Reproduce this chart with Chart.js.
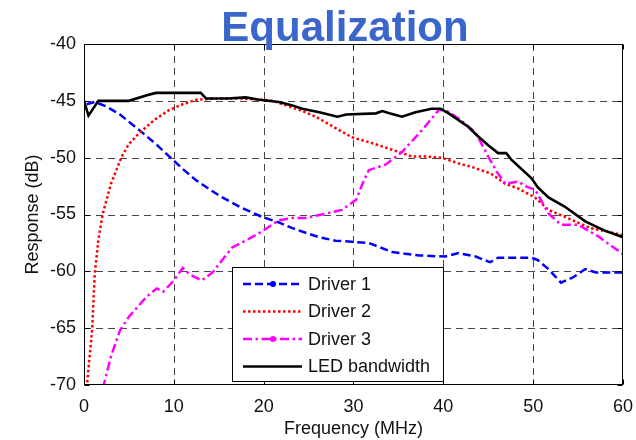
<!DOCTYPE html>
<html>
<head>
<meta charset="utf-8">
<script src="https://cdn.jsdelivr.net/npm/chart.js"></script>
<style>
  body { margin: 0; background: #fff; }
  #wrap { width: 636px; height: 440px; }
</style>
</head>
<body>
<div id="wrap"><canvas id="eqChart" width="636" height="440"></canvas></div>
<script>
// Values (MHz / dB)
const driver1Freq = [0.3, 1.2, 2.5, 4.0, 6.2, 8, 9.5, 11, 12.5, 14, 15.4, 17.5, 19.8, 21.7, 23.2, 25, 26.2, 28, 29.8, 31.7, 33, 34.3, 37.3, 40.2, 41.7, 43.6, 45.2, 46.1, 48, 49.8, 50.5, 51.7, 53.1, 54.5, 55.8, 57, 60];
const driver1Resp = [-45.3, -45.1, -45.5, -46.2, -47.6, -48.8, -49.9, -51.0, -52.0, -52.8, -53.5, -54.4, -55.2, -55.7, -56.2, -56.7, -57.0, -57.3, -57.4, -57.5, -57.9, -58.3, -58.6, -58.7, -58.4, -58.7, -59.2, -58.8, -58.8, -58.8, -59.0, -59.8, -61.0, -60.5, -59.8, -60.1, -60.1];

const driver2Freq = [0.3, 0.9, 1.2, 1.6, 2.1, 3, 4.2, 5, 6.2, 7.8, 9.5, 11, 12.5, 15, 17.3, 19.8, 21, 22.5, 24, 25.8, 27.8, 29.8, 32, 34.3, 36.5, 38, 39.8, 41.7, 43.1, 45.3, 46.9, 48.3, 50.2, 51.7, 53.5, 56.4, 60];
const driver2Resp = [-70.2, -65.2, -60.2, -57.2, -54.9, -52.3, -49.9, -48.8, -47.8, -46.7, -45.8, -45.3, -44.9, -44.8, -44.8, -44.9, -45.0, -45.4, -45.8, -46.4, -47.3, -48.2, -48.7, -49.3, -49.9, -49.9, -50.0, -50.5, -50.8, -51.4, -52.3, -52.7, -53.5, -54.6, -55.2, -56.2, -56.8];

const driver3Freq = [2.1, 3, 4.0, 5, 6.0, 7, 8.1, 8.8, 9.9, 11.0, 11.8, 13.1, 14.3, 15.5, 16.5, 18, 19.8, 21.7, 23.2, 24.7, 26.5, 28.7, 30.3, 31.0, 31.7, 33.6, 35.4, 37.6, 39.5, 40.2, 41.8, 43.6, 45.0, 46.0, 46.9, 48.3, 49.4, 50.2, 51.7, 53.1, 55.0, 57.2, 60];
const driver3Resp = [-70.3, -67.5, -65.2, -64.0, -63.1, -62.2, -61.5, -61.8, -60.9, -59.7, -60.3, -60.8, -60.1, -58.9, -57.9, -57.3, -56.5, -55.5, -55.3, -55.3, -55.0, -54.6, -53.7, -52.3, -51.1, -50.6, -49.5, -47.6, -45.8, -45.8, -46.6, -47.8, -49.9, -51.3, -52.3, -52.1, -52.6, -52.8, -54.9, -55.9, -55.9, -56.9, -58.5];

const ledFreq = [0, 0.5, 1.6, 5, 7, 8, 13, 13.6, 16, 18, 19.5, 21.7, 23.2, 24.3, 26.2, 28.2, 29.2, 32.5, 33.2, 34, 35.4, 36.9, 38.7, 39.7, 40.6, 41.7, 42.8, 43.7, 45, 46.1, 47, 47.6, 49.8, 50.5, 51.7, 53.5, 55.8, 57.9, 60];
const ledResp = [-45.0, -46.3, -45.0, -45.0, -44.5, -44.3, -44.3, -44.8, -44.8, -44.7, -44.9, -45.1, -45.4, -45.7, -46.0, -46.4, -46.2, -46.1, -45.9, -46.1, -46.4, -46.0, -45.7, -45.7, -46.1, -46.7, -47.3, -48.0, -48.9, -49.6, -49.6, -50.2, -51.8, -52.6, -53.5, -54.3, -55.6, -56.4, -57.0];

const seriesNames = ["Driver 1", "Driver 2", "Driver 3", "LED bandwidth"];
const xTicks = [0, 10, 20, 30, 40, 50, 60];
const yTicks = [-70, -65, -60, -55, -50, -45, -40];

const FONT = "'Liberation Sans', Arial, sans-serif";

function toPoints(xs, ys) {
  return xs.map((x, i) => ({ x: x, y: ys[i] }));
}

// styles per series: colour, dash, marker in legend
const styles = [
  { color: "#0000ff", dash: [8, 4], width: 2.5, marker: true },
  { color: "#ff0000", dash: [2.5, 2.5], width: 2.5, marker: false },
  { color: "#ff00ff", dash: [9, 3.5, 2.5, 3.5], width: 2.5, marker: true },
  { color: "#000000", dash: [], width: 2.6, marker: false },
];

// grid, frame and inward ticks (MATLAB look)
const framePlugin = {
  id: "frame",
  beforeDatasetsDraw(chart) {
    const { ctx, chartArea: a, scales } = chart;
    ctx.save();
    ctx.strokeStyle = "rgba(40,40,40,0.85)";
    ctx.lineWidth = 1;
    ctx.setLineDash([7, 5]);
    xTicks.slice(1, -1).forEach((v) => {
      const px = Math.round(scales.x.getPixelForValue(v)) + 0.5;
      ctx.beginPath();
      ctx.moveTo(px, a.top);
      ctx.lineTo(px, a.bottom);
      ctx.stroke();
    });
    yTicks.slice(1, -1).forEach((v) => {
      const py = Math.round(scales.y.getPixelForValue(v)) + 0.5;
      ctx.beginPath();
      ctx.moveTo(a.left, py);
      ctx.lineTo(a.right, py);
      ctx.stroke();
    });
    ctx.restore();
  },
  afterDatasetsDraw(chart) {
    const { ctx, chartArea: a, scales } = chart;
    ctx.save();
    ctx.strokeStyle = "#000";
    ctx.lineWidth = 1;
    ctx.setLineDash([]);
    const l = Math.round(a.left) + 0.5, r = Math.round(a.right) - 0.5;
    const t = Math.round(a.top) + 0.5, b = Math.round(a.bottom) - 0.5;
    ctx.strokeRect(l, t, r - l, b - t);
    const tl = 5;
    ctx.beginPath();
    xTicks.forEach((v) => {
      const px = Math.round(scales.x.getPixelForValue(v)) + 0.5;
      ctx.moveTo(px, b); ctx.lineTo(px, b - tl);
      ctx.moveTo(px, t); ctx.lineTo(px, t + tl);
    });
    yTicks.forEach((v) => {
      const py = Math.round(scales.y.getPixelForValue(v)) + 0.5;
      ctx.moveTo(l, py); ctx.lineTo(l + tl, py);
      ctx.moveTo(r, py); ctx.lineTo(r - tl, py);
    });
    ctx.stroke();

    // legend box
    const bx = 232.5, by = 267.5, bw = 211, bh = 114;
    ctx.fillStyle = "#fff";
    ctx.fillRect(bx, by, bw, bh);
    ctx.strokeRect(bx, by, bw, bh);
    ctx.font = "18px " + FONT;
    ctx.textBaseline = "middle";
    ctx.textAlign = "left";
    seriesNames.forEach((name, i) => {
      const s = styles[i];
      const yy = 284 + i * 27.5;
      ctx.strokeStyle = s.color;
      ctx.lineWidth = s.width;
      ctx.setLineDash(s.dash);
      ctx.beginPath();
      ctx.moveTo(243, yy);
      ctx.lineTo(302, yy);
      ctx.stroke();
      ctx.setLineDash([]);
      if (s.marker) {
        ctx.fillStyle = s.color;
        ctx.beginPath();
        ctx.arc(273, yy, 3, 0, Math.PI * 2);
        ctx.fill();
      }
      ctx.fillStyle = "#111";
      ctx.fillText(name, 308, yy + 1);
    });
    ctx.restore();
  },
  afterDraw(chart) {
    const { ctx } = chart;
    ctx.save();
    ctx.font = "bold 42px " + FONT;
    ctx.fillStyle = "#3a66cc";
    ctx.textAlign = "center";
    ctx.textBaseline = "alphabetic";
    ctx.fillText("Equalization", 345, 41);
    ctx.restore();
  },
};

const datasets = [
  [driver1Freq, driver1Resp],
  [driver2Freq, driver2Resp],
  [driver3Freq, driver3Resp],
  [ledFreq, ledResp],
].map(([xs, ys], i) => ({
  label: seriesNames[i],
  data: toPoints(xs, ys),
  borderColor: styles[i].color,
  borderWidth: styles[i].width,
  borderDash: styles[i].dash,
  pointRadius: 0,
  tension: 0,
  fill: false,
  order: 4 - i,
}));

new Chart(document.getElementById("eqChart"), {
  type: "line",
  data: { datasets: datasets },
  options: {
    responsive: false,
    animation: false,
    layout: { padding: { top: 44, right: 11, left: 0, bottom: 0 } },
    plugins: { legend: { display: false }, tooltip: { enabled: false } },
    scales: {
      x: {
        type: "linear",
        min: 0,
        max: 60,
        afterBuildTicks: (s) => { s.ticks = xTicks.map((v) => ({ value: v })); },
        afterFit: (s) => { s.height = 55; },
        grid: { display: false },
        border: { display: false },
        ticks: { color: "#111", font: { family: FONT, size: 18 }, padding: 3, maxRotation: 0 },
        title: { display: true, text: "Frequency (MHz)", color: "#111", font: { family: FONT, size: 18 }, padding: { top: 0, bottom: 0 } },
      },
      y: {
        min: -70,
        max: -40,
        afterBuildTicks: (s) => { s.ticks = yTicks.map((v) => ({ value: v })); },
        afterFit: (s) => { s.width = 84; },
        grid: { display: false },
        border: { display: false },
        ticks: { color: "#111", font: { family: FONT, size: 18 }, padding: 0 },
        title: { display: true, text: "Response (dB)", color: "#111", font: { family: FONT, size: 18 }, padding: { top: 22, bottom: 0 } },
      },
    },
  },
  plugins: [framePlugin],
});
</script>
</body>
</html>
